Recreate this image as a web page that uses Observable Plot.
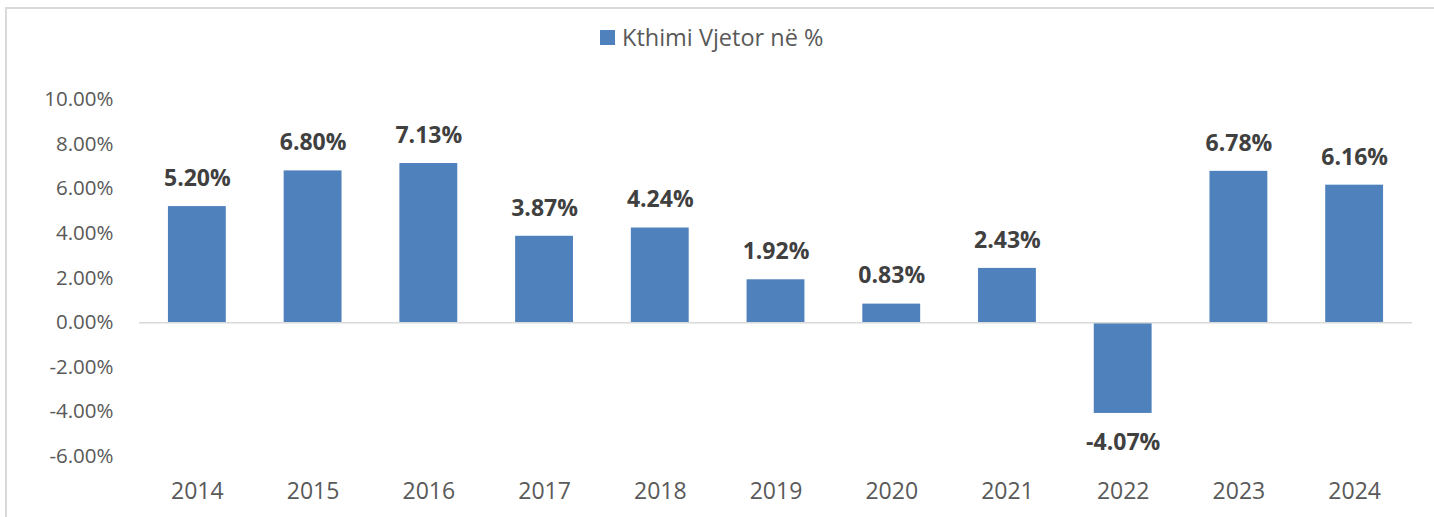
<!DOCTYPE html>
<html>
<head>
<meta charset="utf-8">
<script src="https://cdn.jsdelivr.net/npm/d3@7"></script>
<script src="https://cdn.jsdelivr.net/npm/@observablehq/plot@0.6"></script>
<style>
  html, body { margin: 0; padding: 0; background: #fff; width: 1434px; height: 517px; overflow: hidden; }
  #frame { position: absolute; left: 5px; top: 7px; width: 1440px; height: 520px;
           border-top: 2px solid #d9d9d9; border-left: 2px solid #d9d9d9; }
  #legend { position: absolute; left: 600px; top: 23px; height: 28px; display: flex; align-items: center;
            font-family: "Open Sans", sans-serif; font-size: 23.5px; color: #595959; }
  #legend .sw { width: 15px; height: 15px; background: #4f81bd; margin-right: 7px; }
  #chart { position: absolute; left: 0; top: 60px; }
</style>
</head>
<body>
<div id="frame"></div>
<div id="legend"><div class="sw"></div><span>Kthimi Vjetor në %</span></div>
<div id="chart"></div>
<script>
const years = ["2014","2015","2016","2017","2018","2019","2020","2021","2022","2023","2024"];
const values = [5.20, 6.80, 7.13, 3.87, 4.24, 1.92, 0.83, 2.43, -4.07, 6.78, 6.16];
const yTicks = [-6, -4, -2, 0, 2, 4, 6, 8, 10];
const seriesName = "Kthimi Vjetor në %";

const data = years.map((y, i) => ({year: y, value: values[i]}));
const fmt = v => v.toFixed(2) + "%";

const chart = Plot.plot({
  width: 1434,
  height: 457,
  marginLeft: 139,
  marginRight: 22,
  marginTop: 39,
  marginBottom: 61,
  style: {fontFamily: "'Open Sans', sans-serif", background: "transparent"},
  x: {domain: years, paddingInner: 0.5, paddingOuter: 0.25, label: null, round: false},
  y: {domain: [-6, 10], label: null},
  marks: [
    Plot.barY(data, {x: "year", y: "value", fill: "#4f81bd"}),
    Plot.ruleY([0], {stroke: "#d9d9d9", strokeWidth: 1.5}),
    Plot.axisY({ticks: yTicks, tickFormat: fmt, tickSize: 0, tickPadding: 26, fontSize: 20.5, fill: "#595959", label: null}),
    Plot.axisX({tickSize: 0, tickPadding: 26, fontSize: 23, fill: "#595959", label: null}),
    Plot.text(data.filter(d => d.value >= 0), {x: "year", y: "value", text: d => fmt(d.value), dy: -28, fontSize: 23, fontWeight: "bold", fill: "#404040"}),
    Plot.text(data.filter(d => d.value < 0), {x: "year", y: "value", text: d => fmt(d.value), dy: 29, fontSize: 23, fontWeight: "bold", fill: "#404040"})
  ]
});
document.getElementById("chart").appendChild(chart);
</script>
</body>
</html>
